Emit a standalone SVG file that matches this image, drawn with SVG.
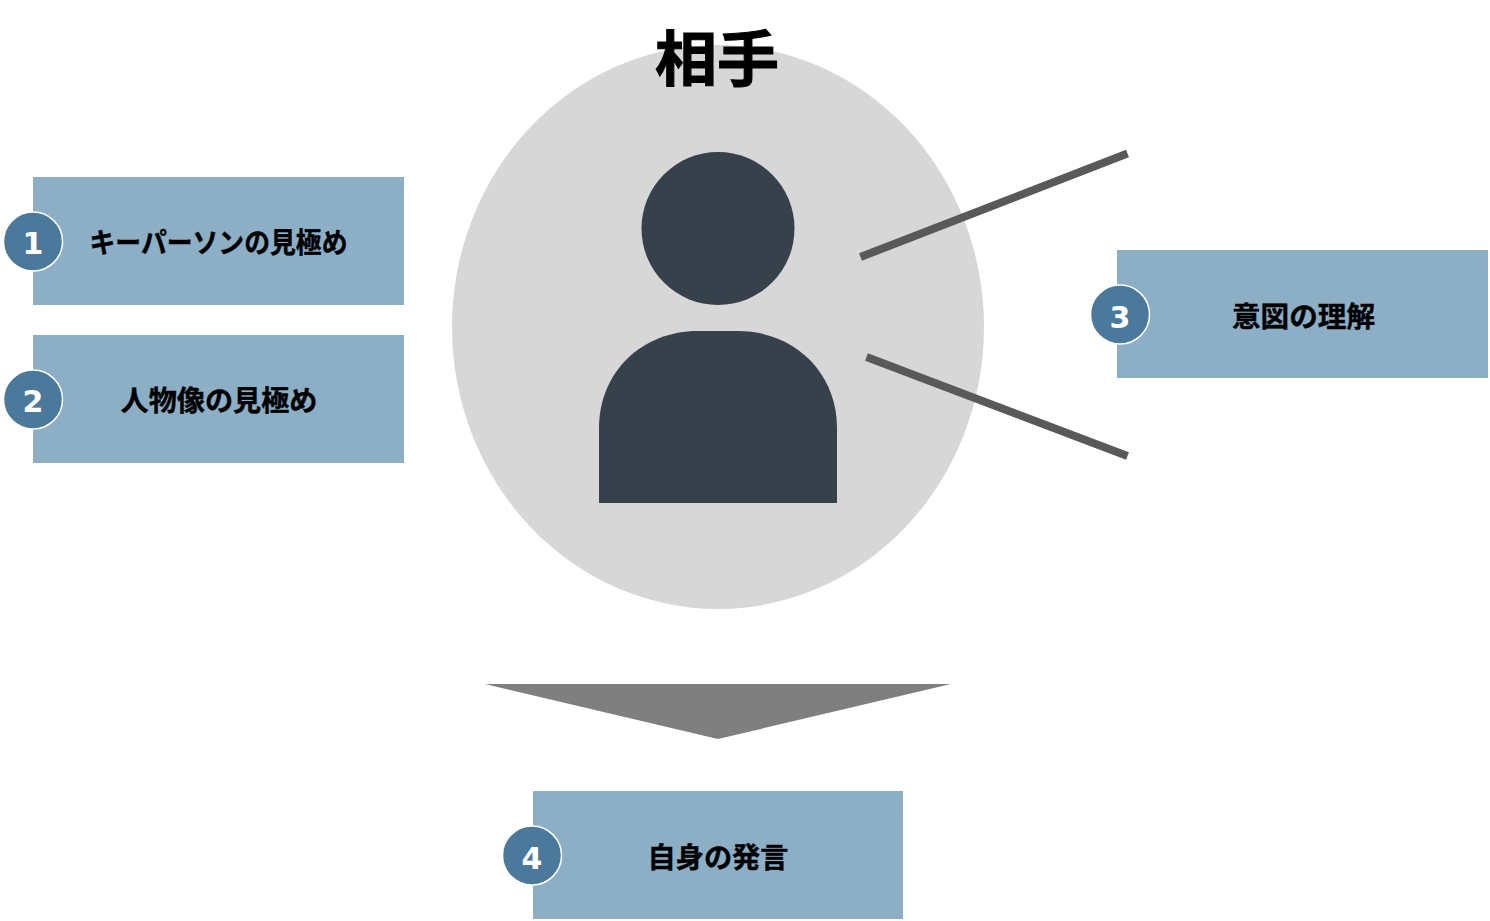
<svg xmlns="http://www.w3.org/2000/svg" width="1490" height="921" viewBox="0 0 1490 921">
<style>
.box{fill:#8cafc6}
.badge{fill:#4b799b;stroke:#fff;stroke-width:1.500}
.num{font-family:"DejaVu Sans",sans-serif;font-weight:700;font-size:30px;fill:#fff;text-anchor:middle}
.lab{font-family:"Noto Sans CJK JP",sans-serif;font-weight:700;font-size:28px;fill:#000;text-anchor:middle;stroke:#000;stroke-width:.4}
.line{stroke:#595959;stroke-width:8;fill:none}
</style>
<rect width="1490" height="921" fill="#fff"/>
<g id="person">
<ellipse cx="718" cy="327" rx="266" ry="282" fill="#d7d7d7"/>
<circle cx="718" cy="228.500" r="76.500" fill="#37414b"/>
<path d="M599 503V428C599 372 642 331 698 331H738C794 331 837 372 837 428V503Z" fill="#37414b"/>
<text x="717" y="81" font-family="'Noto Sans CJK JP',sans-serif" font-weight="700" font-size="60" text-anchor="middle" fill="#000" stroke="#000" stroke-width="1" textLength="124" lengthAdjust="spacingAndGlyphs">相手</text>
</g>
<g id="connectors">
<line class="line" x1="860.500" y1="257" x2="1127.500" y2="153.500"/>
<line class="line" x1="866.500" y1="357" x2="1127.500" y2="456"/>
<path d="M485 684H951L718 739Z" fill="#7f7f7f"/>
</g>
<g id="node1"><rect class="box" x="33" y="177" width="371" height="128"/><circle class="badge" cx="33" cy="241.500" r="29.500"/><text class="num" x="33" y="254">1</text><text class="lab" x="218.500" y="253" textLength="258" lengthAdjust="spacingAndGlyphs">キーパーソンの見極め</text></g>
<g id="node2"><rect class="box" x="33" y="335" width="371" height="128"/><circle class="badge" cx="33" cy="399.500" r="29.500"/><text class="num" x="33" y="412">2</text><text class="lab" x="219" y="411" textLength="197" lengthAdjust="spacingAndGlyphs">人物像の見極め</text></g>
<g id="node3"><rect class="box" x="1117" y="250" width="371" height="128"/><circle class="badge" cx="1120" cy="314.500" r="29.500"/><text class="num" x="1120" y="328">3</text><text class="lab" x="1303.500" y="327" textLength="143" lengthAdjust="spacingAndGlyphs">意図の理解</text></g>
<g id="node4"><rect class="box" x="533" y="791" width="370" height="128"/><circle class="badge" cx="532" cy="855.500" r="29.500"/><text class="num" x="532" y="869">4</text><text class="lab" x="718" y="868" textLength="141" lengthAdjust="spacingAndGlyphs">自身の発言</text></g>
</svg>
